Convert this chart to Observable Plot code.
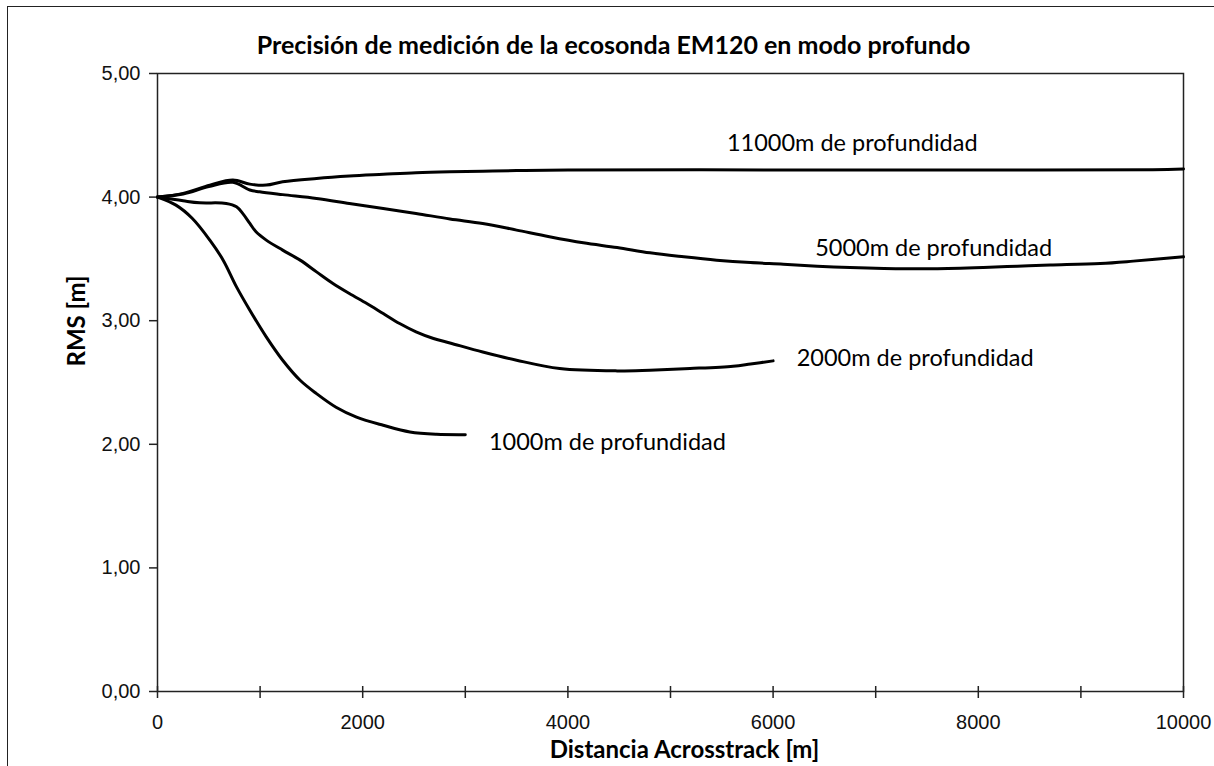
<!DOCTYPE html>
<html><head><meta charset="utf-8">
<script src="https://cdn.jsdelivr.net/npm/d3@7"></script>
<script src="https://cdn.jsdelivr.net/npm/@observablehq/plot@0.6"></script>
<style>
body{margin:0;background:#fff;}
#wrap{position:relative;width:1214px;height:766px;overflow:hidden;background:#fff;}
#border{position:absolute;left:7px;top:6px;width:1300px;height:900px;border-top:1.5px solid #222;border-left:1.5px solid #222;pointer-events:none;}
#wrap svg{position:absolute;left:0;top:0;}
</style></head><body><div id="wrap"><div id="border"></div></div>
<script>
const title = "Precisión de medición de la ecosonda EM120 en modo profundo";
const xTitle = "Distancia Acrosstrack [m]";
const yTitle = "RMS [m]";

const xTicks = [0, 2000, 4000, 6000, 8000, 10000];
const xTickLabels = ["0", "2000", "4000", "6000", "8000", "10000"];
const xMinorTicks = [0, 1000, 2000, 3000, 4000, 5000, 6000, 7000, 8000, 9000, 10000];
const yTicks = [0, 1, 2, 3, 4, 5];
const yTickLabels = ["0,00", "1,00", "2,00", "3,00", "4,00", "5,00"];

const seriesNames = ["1000m de profundidad", "2000m de profundidad", "5000m de profundidad", "11000m de profundidad"];

const x1000 = [0, 180, 340, 510, 640, 770, 900, 1060, 1220, 1390, 1550, 1740, 1940, 2200, 2460, 2720, 3000];
const y1000 = [4.00, 3.935, 3.827, 3.652, 3.49, 3.274, 3.085, 2.869, 2.68, 2.518, 2.41, 2.30, 2.22, 2.154, 2.10, 2.081, 2.078];

const x2000 = [0, 250, 410, 670, 770, 830, 900, 960, 1060, 1220, 1390, 1550, 1710, 1870, 2040, 2200, 2360, 2520, 2690, 2850, 3170, 3500, 3920, 4480, 4800, 5190, 5610, 5780, 6000];
const y2000 = [4.00, 3.97, 3.954, 3.949, 3.922, 3.868, 3.787, 3.719, 3.652, 3.571, 3.49, 3.395, 3.301, 3.22, 3.139, 3.058, 2.977, 2.91, 2.856, 2.82, 2.747, 2.68, 2.613, 2.594, 2.60, 2.613, 2.632, 2.65, 2.675];

const x5000 = [0, 250, 500, 735, 900, 995, 1220, 1550, 1870, 2200, 2520, 2850, 3170, 3500, 3820, 4150, 4480, 4800, 5130, 5450, 5780, 6100, 6430, 6750, 7080, 7560, 8050, 8380, 8700, 9190, 9510, 10000];
const y5000 = [4.00, 4.025, 4.085, 4.12, 4.057, 4.043, 4.02, 3.989, 3.949, 3.908, 3.868, 3.823, 3.787, 3.733, 3.679, 3.63, 3.592, 3.549, 3.517, 3.49, 3.47, 3.457, 3.441, 3.43, 3.423, 3.42, 3.43, 3.441, 3.45, 3.463, 3.482, 3.517];

const x11000 = [0, 250, 510, 735, 900, 1060, 1220, 1550, 1870, 2200, 2520, 2850, 3170, 3500, 4000, 6000, 8000, 9700, 10000];
const y11000 = [4.00, 4.03, 4.097, 4.138, 4.105, 4.097, 4.124, 4.151, 4.17, 4.184, 4.197, 4.205, 4.21, 4.215, 4.22, 4.22, 4.22, 4.222, 4.228];

const labelX = [3230, 6230, 6410, 5550];
const labelY = [2.016, 2.694, 3.587, 4.43];

const seriesX = [x1000, x2000, x5000, x11000];
const seriesY = [y1000, y2000, y5000, y11000];
const rows = [];
seriesNames.forEach((name, s) => {
  seriesX[s].forEach((x, i) => rows.push({series: name, x, y: seriesY[s][i]}));
});
const labels = seriesNames.map((name, i) => ({text: name, x: labelX[i], y: labelY[i]}));

const textFont = "Lato, 'Open Sans', sans-serif";

const chart = Plot.plot({
  width: 1214, height: 766,
  marginLeft: 157, marginRight: 31, marginTop: 73, marginBottom: 75,
  style: {fontFamily: "'Liberation Sans', Arial, sans-serif", fontSize: "20px", background: "transparent", color: "#000"},
  x: {domain: [0, 10000]},
  y: {domain: [0, 5]},
  marks: [
    Plot.frame({stroke: "#222", strokeWidth: 1.5}),
    Plot.axisY({ticks: yTicks, tickFormat: d => yTickLabels[yTicks.indexOf(d)], tickSize: 8, tickPadding: 9, fontSize: 20, label: null, stroke: "#222", strokeWidth: 1.5, fill: "#111"}),
    Plot.axisX({ticks: xMinorTicks, tickSize: 12, dy: -5, tickFormat: () => "", label: null, stroke: "#222", strokeWidth: 1.5}),
    Plot.axisX({ticks: xTicks, tickFormat: d => xTickLabels[xTicks.indexOf(d)], tickSize: 0, tickPadding: 23, fontSize: 20, label: null, fill: "#111"}),
    Plot.line(rows, {x: "x", y: "y", z: "series", stroke: "#000", strokeWidth: 3, curve: "catmull-rom"}),
    Plot.text(labels, {x: "x", y: "y", text: "text", textAnchor: "start", fontSize: 23.5, fontFamily: textFont, fill: "#000"}),
    Plot.text([title], {frameAnchor: "top", dy: -28, dx: -57, lineAnchor: "middle", fontSize: 25, fontWeight: "bold", fontFamily: textFont, fill: "#000"}),
    Plot.text([xTitle], {frameAnchor: "bottom", dy: 59, dx: 14, lineAnchor: "middle", fontSize: 24, fontWeight: "bold", fontFamily: textFont, fill: "#000"}),
    Plot.text([yTitle], {frameAnchor: "left", dx: -80, dy: -16, rotate: -90, lineAnchor: "middle", fontSize: 24, fontWeight: "bold", fontFamily: textFont, fill: "#000"})
  ]
});
document.getElementById("wrap").appendChild(chart);
</script>
</body></html>
